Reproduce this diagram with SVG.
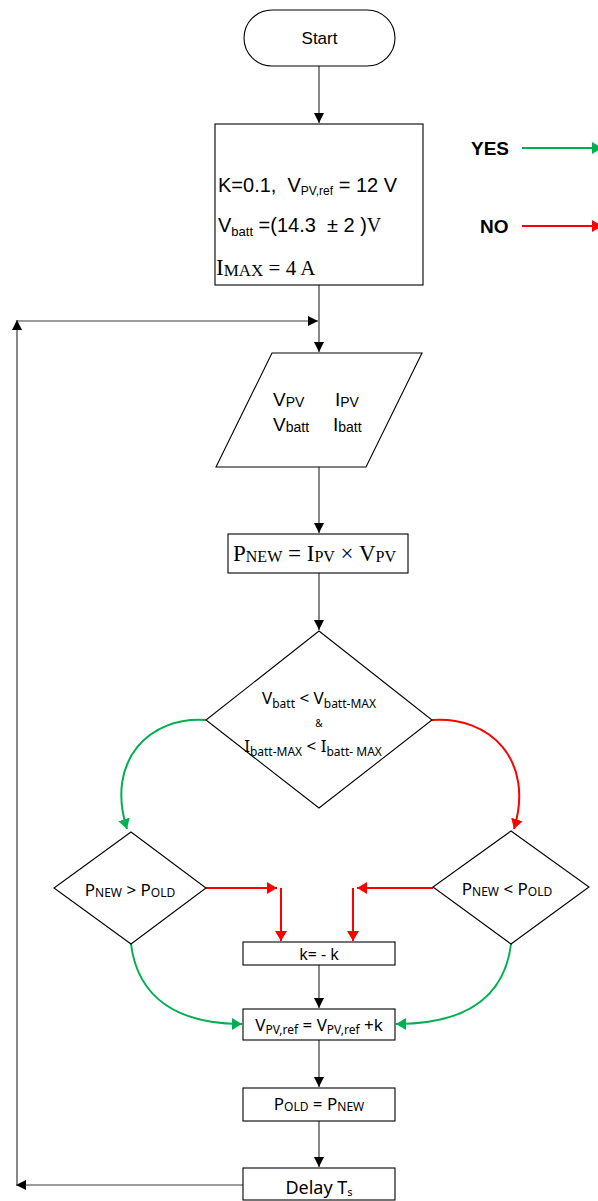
<svg xmlns="http://www.w3.org/2000/svg" width="598" height="1201" viewBox="0 0 598 1201">
<style>
.n{fill:#fff;stroke:#000;stroke-width:1.1}
.c{fill:none;stroke:#3a3a3a;stroke-width:1.2}
.g{fill:none;stroke:#00b050;stroke-width:2}
.r{fill:none;stroke:#ff0000;stroke-width:2}
.a{font-family:"Liberation Sans",Arial,sans-serif;fill:#000}
.s{font-family:"Liberation Serif","Times New Roman",serif;fill:#000}
.k{font-family:"Noto Sans","Open Sans",sans-serif;fill:#000}
</style>
<defs>
<marker id="mb" markerUnits="userSpaceOnUse" markerWidth="12" markerHeight="10" refX="10" refY="5" orient="auto"><path d="M0,0 L10,5 L0,10 z" fill="#000"/></marker>
<marker id="mg" markerUnits="userSpaceOnUse" markerWidth="12" markerHeight="12" refX="10" refY="6" orient="auto"><path d="M0,0 L10,6 L0,12 z" fill="#00b050"/></marker>
<marker id="mr" markerUnits="userSpaceOnUse" markerWidth="12" markerHeight="12" refX="10" refY="6" orient="auto"><path d="M0,0 L10,6 L0,12 z" fill="#ff0000"/></marker>
</defs>
<rect width="598" height="1201" fill="#fff"/>

<g id="connectors">
<line class="c" x1="319" y1="66" x2="319" y2="123" marker-end="url(#mb)"/>
<line class="c" x1="319" y1="285" x2="319" y2="352" marker-end="url(#mb)"/>
<line class="c" x1="319" y1="467" x2="319" y2="533" marker-end="url(#mb)"/>
<line class="c" x1="319" y1="573" x2="319" y2="630" marker-end="url(#mb)"/>
<line class="c" x1="319" y1="965" x2="319" y2="1008" marker-end="url(#mb)"/>
<line class="c" x1="319" y1="1040" x2="319" y2="1087" marker-end="url(#mb)"/>
<line class="c" x1="319" y1="1121" x2="319" y2="1167" marker-end="url(#mb)"/>
<line class="c" x1="243" y1="1185" x2="16" y2="1185" marker-end="url(#mb)"/>
<line class="c" x1="17" y1="1185" x2="17" y2="320" marker-end="url(#mb)"/>
<line class="c" x1="17" y1="321" x2="318" y2="321" marker-end="url(#mb)"/>
<path class="g" d="M206,720 C150,716 105,760 127,829" marker-end="url(#mg)"/>
<path class="r" d="M432,720 C490,716 535,760 514,829" marker-end="url(#mr)"/>
<line class="r" x1="206" y1="888" x2="277" y2="888" marker-end="url(#mr)"/>
<line class="r" x1="281" y1="888" x2="281" y2="941" marker-end="url(#mr)"/>
<line class="r" x1="433" y1="888" x2="357" y2="888" marker-end="url(#mr)"/>
<line class="r" x1="353" y1="888" x2="353" y2="941" marker-end="url(#mr)"/>
<path class="g" d="M131,944 C138,1000 180,1024 242,1024" marker-end="url(#mg)"/>
<path class="g" d="M511,944 C504,1000 462,1024 396,1024" marker-end="url(#mg)"/>
<line class="g" x1="522" y1="148" x2="602" y2="148" marker-end="url(#mg)"/>
<line class="r" x1="522" y1="226" x2="602" y2="226" marker-end="url(#mr)"/>
</g>

<g id="legend">
<text class="a" x="471" y="155" font-size="19" font-weight="bold">YES</text>
<text class="a" x="480" y="233" font-size="19" font-weight="bold">NO</text>
</g>

<g id="start">
<rect class="n" x="244" y="10" width="151" height="56" rx="28" ry="28"/>
<text class="a" x="319.5" y="44" font-size="17" text-anchor="middle">Start</text>
</g>

<g id="init">
<rect class="n" x="215" y="124" width="208" height="161"/>
<text class="a" x="218" y="192" font-size="20" xml:space="preserve">K=0.1,  V<tspan font-size="12" dy="3">PV,ref</tspan><tspan dy="-3"> = 12 V</tspan></text>
<text class="a" x="218" y="232" font-size="20" xml:space="preserve">V<tspan font-size="13" dy="4">batt</tspan><tspan dy="-4"> =(14.3  ± 2 )</tspan><tspan class="s" font-size="20">V</tspan></text>
<text class="s" x="216" y="275" font-size="23">I<tspan font-size="17" dy="1">MAX</tspan><tspan dy="-1" font-size="21"> = 4 A</tspan></text>
</g>

<g id="input">
<polygon class="n" points="272,353 422,353 366,467 216,467"/>
<text class="a" x="273" y="406" font-size="19">V<tspan font-size="14" dy="1">PV</tspan></text>
<text class="a" x="335" y="406" font-size="19">I<tspan font-size="14" dy="1">PV</tspan></text>
<text class="a" x="273" y="431" font-size="19">V<tspan font-size="14" dy="1">batt</tspan></text>
<text class="a" x="333" y="431" font-size="19">I<tspan font-size="14" dy="1">batt</tspan></text>
</g>

<g id="power">
<rect class="n" x="228" y="534" width="180" height="39"/>
<text class="s" x="233" y="561" font-size="23">P<tspan font-size="16" dy="1">NEW</tspan><tspan dy="-1"> = I</tspan><tspan font-size="16" dy="1">PV</tspan><tspan dy="-1"> × V</tspan><tspan font-size="16" dy="1">PV</tspan></text>
</g>

<g id="check-limits">
<polygon class="n" points="319,631 432,720 319,808 206,720"/>
<text class="k" x="319" y="704" font-size="17" text-anchor="middle">V<tspan font-size="12" dy="4">batt</tspan><tspan dy="-4"> &lt; V</tspan><tspan font-size="12" dy="4">batt-MAX</tspan></text>
<text class="k" x="319" y="727" font-size="10" text-anchor="middle">&amp;</text>
<text class="k" x="313" y="752" font-size="17" text-anchor="middle">I<tspan font-size="12" dy="4">batt-MAX</tspan><tspan dy="-4"> &lt; I</tspan><tspan font-size="12" dy="4">batt- MAX</tspan></text>
</g>

<g id="cmp-greater">
<polygon class="n" points="131,832 206,888 131,944 54,888"/>
<text class="k" x="130" y="896" font-size="17" text-anchor="middle">P<tspan font-size="12" dy="1">NEW</tspan><tspan dy="-1"> &gt; P</tspan><tspan font-size="12" dy="1">OLD</tspan></text>
</g>

<g id="cmp-less">
<polygon class="n" points="511,831 589,887 511,944 433,887"/>
<text class="k" x="507" y="895" font-size="17" text-anchor="middle">P<tspan font-size="12" dy="1">NEW</tspan><tspan dy="-1"> &lt; P</tspan><tspan font-size="12" dy="1">OLD</tspan></text>
</g>

<g id="negate">
<rect class="n" x="243" y="942" width="152" height="23"/>
<text class="k" x="319" y="960" font-size="16" text-anchor="middle">k= - k</text>
</g>

<g id="update">
<rect class="n" x="243" y="1009" width="152" height="31"/>
<text class="k" x="319" y="1031" font-size="17" text-anchor="middle">V<tspan font-size="12" dy="3">PV,ref</tspan><tspan dy="-3"> = V</tspan><tspan font-size="12" dy="3">PV,ref</tspan><tspan dy="-3"> +k</tspan></text>
</g>

<g id="store">
<rect class="n" x="243" y="1088" width="152" height="33"/>
<text class="k" x="319" y="1110" font-size="17" text-anchor="middle">P<tspan font-size="12" dy="1">OLD</tspan><tspan dy="-1"> = P</tspan><tspan font-size="12" dy="1">NEW</tspan></text>
</g>

<g id="delay">
<rect class="n" x="243" y="1168" width="152" height="32"/>
<text class="k" x="319" y="1194" font-size="18" text-anchor="middle">Delay T<tspan font-size="11" dy="2">s</tspan></text>
</g>
</svg>
